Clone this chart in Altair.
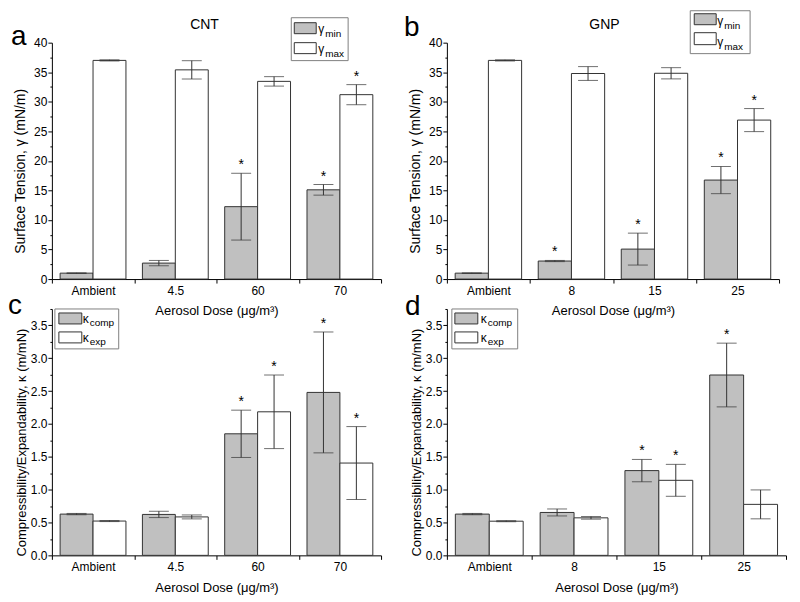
import altair as alt
import pandas as pd

# ---------------- data ----------------
cnt_doses = ["Ambient", "4.5", "60", "70"]
gnp_doses = ["Ambient", "8", "15", "25"]

cnt_gamma_min = [1.0, 2.7, 12.25, 15.1]
cnt_gamma_min_err = [0.05, 0.45, 5.65, 0.9]
cnt_gamma_min_sig = [False, False, True, True]
cnt_gamma_max = [37.0, 35.4, 33.45, 31.2]
cnt_gamma_max_err = [0.1, 1.55, 0.8, 1.7]
cnt_gamma_max_sig = [False, False, False, True]

gnp_gamma_min = [1.0, 3.05, 5.07, 16.75]
gnp_gamma_min_err = [0.05, 0.1, 2.7, 2.3]
gnp_gamma_min_sig = [False, True, True, True]
gnp_gamma_max = [37.0, 34.78, 34.82, 26.9]
gnp_gamma_max_err = [0.1, 1.17, 0.95, 1.95]
gnp_gamma_max_sig = [False, False, False, True]

cnt_kappa_comp = [0.628, 0.623, 1.85, 2.48]
cnt_kappa_comp_err = [0.01, 0.048, 0.36, 0.92]
cnt_kappa_comp_sig = [False, False, True, True]
cnt_kappa_exp = [0.522, 0.585, 2.185, 1.405]
cnt_kappa_exp_err = [0.008, 0.03, 0.56, 0.555]
cnt_kappa_exp_sig = [False, False, True, True]

gnp_kappa_comp = [0.628, 0.653, 1.29, 2.745]
gnp_kappa_comp_err = [0.01, 0.053, 0.17, 0.485]
gnp_kappa_comp_sig = [False, False, True, True]
gnp_kappa_exp = [0.52, 0.571, 1.142, 0.776]
gnp_kappa_exp_err = [0.008, 0.02, 0.243, 0.22]
gnp_kappa_exp_sig = [False, False, True, False]

gamma_ticks = [i * 2.5 for i in range(17)]
kappa_ticks = [i * 0.25 for i in range(16)]

FONT = "Liberation Sans"
GRAY = "#c0c0c0"
EDGE = "#333333"
X_TITLE = "Aerosol Dose (μg/m³)"

one = pd.DataFrame({"k": [0]})


def make_df(doses, vals, errs, sigs):
    return pd.DataFrame({
        "dose": doses,
        "value": vals,
        "lo": [v - e for v, e in zip(vals, errs)],
        "hi": [v + e for v, e in zip(vals, errs)],
        "sig": sigs,
    })


def panel(doses, series, ymax, ticks, major, fmt, ytitle, ytitle_pad, ytitle_size,
          width, height, letter, letter_xy, title, title_xy, legend):
    band = width / len(doses)
    barw = 0.4 * band
    xscale = alt.Scale(domain=doses, paddingInner=0, paddingOuter=0)
    xaxis = alt.Axis(title=X_TITLE, labelAngle=0, tickBand="extent",
                     tickSize=4, labelPadding=2, titlePadding=9)
    yscale = alt.Scale(domain=[0, ymax], nice=False)
    yaxis = alt.Axis(title=ytitle, values=ticks, format=fmt, labelOverlap=False,
                     labelExpr=f"datum.value % {major} === 0 ? datum.label : ''",
                     tickSize={"condition": {"test": f"datum.value % {major} === 0", "value": 4}, "value": 2},
                     labelPadding=1, titlePadding=ytitle_pad, titleFontSize=ytitle_size,
                     titleY=height / 2 + 10)

    def X():
        return alt.X("dose:N", sort=doses, scale=xscale, axis=xaxis)

    def Y(f):
        return alt.Y(f"{f}:Q", scale=yscale, axis=yaxis)

    layers = []
    for k, ((vals, errs, sigs), col) in enumerate(zip(series, [GRAY, "white"])):
        off = (k - 0.5) * barw
        base = alt.Chart(make_df(doses, vals, errs, sigs))
        layers.append(base.mark_bar(width=barw, xOffset=off, fill=col, stroke=EDGE,
                                    strokeWidth=1).encode(x=X(), y=Y("value")))
        layers.append(base.mark_rule(color=EDGE, strokeWidth=1, xOffset=off).encode(
            x=X(), y=Y("lo"), y2="hi:Q"))
        for fld in ["hi", "lo"]:
            layers.append(base.mark_tick(color=EDGE, orient="horizontal", size=20,
                                         thickness=1, xOffset=off).encode(
                x=X(), y=Y(fld)))
        layers.append(base.transform_filter("datum.sig").mark_text(
            text="*", fontSize=14, font=FONT, color="black", baseline="alphabetic",
            dy=-4, xOffset=off).encode(x=X(), y=Y("hi")))

    # legend (drawn by hand so that subscripts can be shown)
    lg = alt.Chart(one)
    bx = legend["box"]
    layers.append(lg.mark_rect(fill="white", stroke="#808080", strokeWidth=1).encode(
        x=alt.value(bx[0]), x2=alt.value(bx[1]), y=alt.value(bx[2]), y2=alt.value(bx[3])))
    sx = legend["swatch_x"]
    for (y1, y2), col in zip(legend["swatch_y"], [GRAY, "white"]):
        layers.append(lg.mark_rect(fill=col, stroke=EDGE, strokeWidth=1).encode(
            x=alt.value(sx[0]), x2=alt.value(sx[1]), y=alt.value(y1), y2=alt.value(y2)))
    for (mx, my, sxp, sy, main, sub) in legend["texts"]:
        layers.append(lg.mark_text(text=main, fontSize=12, font=FONT, align="left",
                                   baseline="alphabetic", color="black").encode(
            x=alt.value(mx), y=alt.value(my)))
        layers.append(lg.mark_text(text=sub, fontSize=10, font=FONT, align="left",
                                   baseline="alphabetic", color="black").encode(
            x=alt.value(sxp), y=alt.value(sy)))

    layers.append(lg.mark_text(text=letter, fontSize=28, font=FONT, align="left",
                               baseline="alphabetic", color="black").encode(
        x=alt.value(letter_xy[0]), y=alt.value(letter_xy[1])))
    if title:
        layers.append(lg.mark_text(text=title, fontSize=14, font=FONT, align="center",
                                   baseline="alphabetic", color="black").encode(
            x=alt.value(title_xy[0]), y=alt.value(title_xy[1])))
    return alt.layer(*layers).properties(width=width, height=height)


gamma_title = "Surface Tension, γ (mN/m)"
kappa_title = "Compressibility/Expandability, κ (m/mN)"

pa = panel(cnt_doses,
           [(cnt_gamma_min, cnt_gamma_min_err, cnt_gamma_min_sig),
            (cnt_gamma_max, cnt_gamma_max_err, cnt_gamma_max_sig)],
           40, gamma_ticks, 5, "d", gamma_title, 6, 14, 330, 237,
           "a", (-41, 2), "CNT", (153, -14),
           {"box": (240, 297, -25, 18), "swatch_x": (243, 265),
            "swatch_y": [(-20, -9), (0, 11)],
            "texts": [(267, -10, 274, -6, "γ", "min"), (267, 10, 274, 14, "γ", "max")]})

pb = panel(gnp_doses,
           [(gnp_gamma_min, gnp_gamma_min_err, gnp_gamma_min_sig),
            (gnp_gamma_max, gnp_gamma_max_err, gnp_gamma_max_sig)],
           40, gamma_ticks, 5, "d", gamma_title, 6, 14, 333, 237,
           "b", (-43, -7), "GNP", (158, -14),
           {"box": (244, 304, -32, 11), "swatch_x": (248, 270),
            "swatch_y": [(-29, -18), (-10, 2)],
            "texts": [(271, -18, 278, -14, "γ", "min"), (271, 3, 278, 7, "γ", "max")]})

pc = panel(cnt_doses,
           [(cnt_kappa_comp, cnt_kappa_comp_err, cnt_kappa_comp_sig),
            (cnt_kappa_exp, cnt_kappa_exp_err, cnt_kappa_exp_sig)],
           3.75, kappa_ticks, 0.5, ".1f", kappa_title, 2, 13, 330, 247,
           "c", (-44, 5), None, None,
           {"box": (3, 67, 0, 40), "swatch_x": (7, 30),
            "swatch_y": [(4, 15), (23, 34)],
            "texts": [(31, 14, 38, 17, "κ", "comp"), (31, 33, 38, 36, "κ", "exp")]})

pd_ = panel(gnp_doses,
            [(gnp_kappa_comp, gnp_kappa_comp_err, gnp_kappa_comp_sig),
             (gnp_kappa_exp, gnp_kappa_exp_err, gnp_kappa_exp_sig)],
            3.75, kappa_ticks, 0.5, ".1f", kappa_title, 2, 13, 340, 247,
            "d", (-42, 6), None, None,
            {"box": (5, 71, 0, 40), "swatch_x": (8, 31),
             "swatch_y": [(4, 15), (23, 34)],
             "texts": [(34, 14, 41, 17, "κ", "comp"), (34, 33, 41, 36, "κ", "exp")]})

chart = alt.concat(pa, pb, pc, pd_, columns=2,
                   spacing={"row": 30, "column": 66}, bounds="flush").properties(
    padding={"left": 0, "top": 1, "right": 5, "bottom": 2}
).configure_view(stroke=None).configure_axis(
    grid=False, domainColor="black", tickColor="black", labelColor="black",
    titleColor="black", labelFont=FONT, titleFont=FONT, labelFontSize=12,
    titleFontSize=13, titleFontWeight="normal", domainWidth=1, tickWidth=1,
)

chart.save("out.html", embed_options={"renderer": "svg", "actions": False})
